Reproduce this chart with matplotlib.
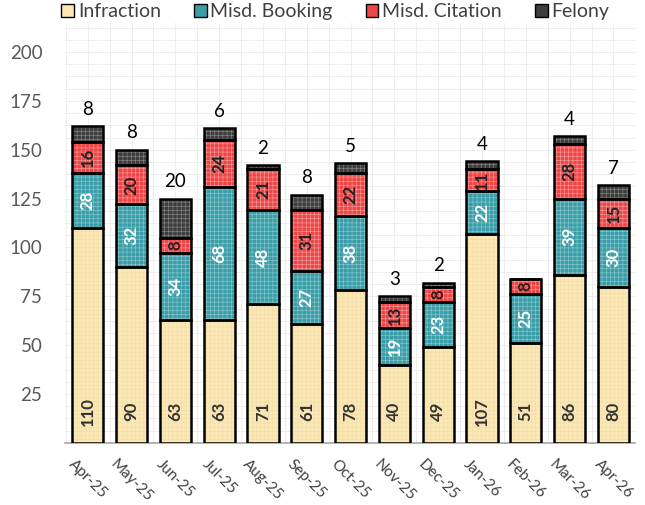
import matplotlib
matplotlib.use("Agg")
import matplotlib.pyplot as plt
import numpy as np
from matplotlib.patches import Patch

months = ["Apr-25", "May-25", "Jun-25", "Jul-25", "Aug-25", "Sep-25", "Oct-25",
          "Nov-25", "Dec-25", "Jan-26", "Feb-26", "Mar-26", "Apr-26"]
infraction = [110, 90, 63, 63, 71, 61, 78, 40, 49, 107, 51, 86, 80]
booking = [28, 32, 34, 68, 48, 27, 38, 19, 23, 22, 25, 39, 30]
citation = [16, 20, 8, 24, 21, 31, 22, 13, 8, 11, 8, 28, 15]
felony = [8, 8, 20, 6, 2, 8, 5, 3, 2, 4, 0, 4, 7]
series_names = ["Infraction", "Misd. Booking", "Misd. Citation", "Felony"]
yticks = [25, 50, 75, 100, 125, 150, 175, 200]

plt.rcParams['font.family'] = ['Lato', 'DejaVu Sans']
plt.rcParams['hatch.linewidth'] = 0.4

fills = ["#FCE8B4", "#3A9DA7", "#EE4646", "#3E3E3E"]
hatchc = ["#F0DCA8", "#8CCBD0", "#F7A0A0", "#8A8A8A"]
lblc = ["#333333", "white", "#222222", None]

fig = plt.figure(figsize=(6.45, 5.05), dpi=100)
ax = fig.add_axes([0.1, 0.123, 0.885, 0.832])

x = np.arange(len(months))
w = 0.71
data = [infraction, booking, citation, felony]
bottom = np.zeros(len(months))
for i, vals in enumerate(data):
    vals = np.array(vals, dtype=float)
    ax.bar(x, vals, w, bottom=bottom, color=fills[i], edgecolor=hatchc[i],
           linewidth=0, hatch='++++', zorder=3)
    ax.bar(x, vals, w, bottom=bottom, facecolor='none', edgecolor='black',
           linewidth=1.8, zorder=4)
    if i < 3:
        for xi, v, b in zip(x, vals, bottom):
            if v <= 0:
                continue
            yc = 16 if i == 0 else b + v / 2
            ax.text(xi, yc, f"{int(v)}", rotation=90, ha='center', va='center',
                    fontsize=12, fontweight='bold', color=lblc[i], zorder=5)
    bottom = bottom + vals

for xi, v, t in zip(x, felony, bottom):
    if v > 0:
        ax.annotate(f"{v}", (xi, t), xytext=(0, 6), textcoords='offset points',
                    ha='center', va='bottom', fontsize=13.5, color='black')

ax.set_xlim(-0.53, len(months) - 0.5)
ax.set_ylim(0, 215)
ax.set_yticks(yticks)
ax.set_yticks(np.arange(0, 215, 6.25), minor=True)
ax.set_xticks(x)
ax.set_xticks(np.arange(-0.5, len(months), 0.5), minor=True)
ax.set_xticklabels(months, rotation=-45, ha='center', va='top', fontsize=11,
                   color='#404040')
ax.tick_params(axis='y', labelsize=13.5, labelcolor='#595959', length=0, pad=16)
ax.tick_params(axis='x', length=0, pad=10)
ax.tick_params(which='minor', length=0)
ax.grid(True, which='both', color='#EBEBEB', linewidth=0.6, zorder=0)
ax.set_axisbelow(True)
for s in ['top', 'right', 'left']:
    ax.spines[s].set_visible(False)
ax.spines['bottom'].set_color('#A6A6A6')
ax.spines['bottom'].set_linewidth(1.2)

handles = [Patch(facecolor=fills[i], edgecolor='black', linewidth=1.0,
                 label=series_names[i]) for i in range(4)]
fig.legend(handles=handles, loc='upper center', bbox_to_anchor=(0.52, 1.028),
           ncol=4, frameon=False, fontsize=14, handlelength=0.65,
           handleheight=0.65, handletextpad=0.2, columnspacing=1.7,
           labelcolor='#404040')

fig.savefig("out.png", dpi=100, facecolor='white')
